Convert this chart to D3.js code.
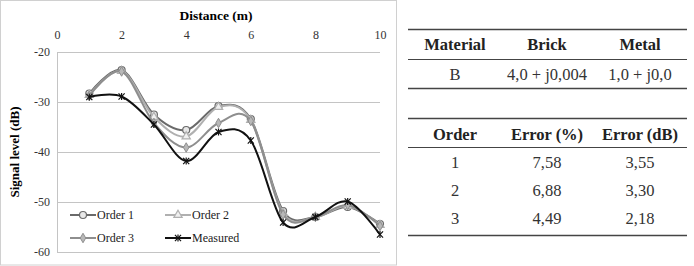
<!DOCTYPE html>
<html>
<head>
<meta charset="utf-8">
<script src="https://cdn.jsdelivr.net/npm/d3@7"></script>
<style>
  body { margin: 0; background: white; }
  svg text { font-family: "Liberation Serif", "Times New Roman", serif; }
</style>
</head>
<body>
<svg id="chart" width="694" height="266"></svg>
<script>
// data
const distance = [1, 2, 3, 4, 5, 6, 7, 8, 9, 10];
const order1 = [-28.3, -23.6, -32.5, -35.6, -30.8, -33.4, -51.8, -53.0, -51.0, -54.4];
const order2 = [-28.6, -23.8, -33.0, -36.9, -31.0, -33.6, -52.2, -53.0, -50.8, -54.6];
const order3 = [-28.8, -23.9, -34.2, -39.1, -34.2, -33.8, -52.5, -53.0, -50.6, -54.8];
const measured = [-29.0, -28.9, -34.5, -41.8, -36.0, -37.7, -54.1, -53.0, -49.9, -56.5];
const xTicks = [0, 2, 4, 6, 8, 10];
const yTicks = [-20, -30, -40, -50, -60];

const tableMaterialHead = ["Material", "Brick", "Metal"];
const tableMaterialRows = [["B", "4,0 + j0,004", "1,0 + j0,0"]];
const tableErrorHead = ["Order", "Error (%)", "Error (dB)"];
const tableErrorRows = [["1", "7,58", "3,55"], ["2", "6,88", "3,30"], ["3", "4,49", "2,18"]];

const svg = d3.select("#chart");

// outer frame of the chart
svg.append("rect")
    .attr("x", 0.5).attr("y", 0.5)
    .attr("width", 396).attr("height", 264.5)
    .attr("fill", "white")
    .attr("stroke", "#d0d0d0");

const xScale = d3.scaleLinear().domain([0, 10]).range([57, 380]);
const yScale = d3.scaleLinear().domain([-60, -20]).range([252, 52]);

// gridlines
svg.append("g")
    .selectAll("line")
    .data(yTicks)
    .enter().append("line")
    .attr("x1", xScale(0)).attr("x2", xScale(10))
    .attr("y1", d => yScale(d) + 0.5).attr("y2", d => yScale(d) + 0.5)
    .attr("stroke", "#c4c4c4");

svg.append("line")
    .attr("x1", xScale(0) + 0.5).attr("x2", xScale(0) + 0.5)
    .attr("y1", yScale(-20)).attr("y2", yScale(-60))
    .attr("stroke", "#c4c4c4");

// x axis on top
const xAxis = svg.append("g")
    .attr("transform", "translate(0," + yScale(-20) + ")")
    .call(d3.axisTop(xScale).tickValues(xTicks).tickSize(0).tickPadding(13).tickFormat(d => String(d)));
xAxis.select(".domain").remove();
xAxis.selectAll("text")
    .style("font-size", "12px")
    .attr("fill", "#333");

// y axis
const yAxis = svg.append("g")
    .attr("transform", "translate(" + xScale(0) + ",0)")
    .call(d3.axisLeft(yScale).tickValues(yTicks).tickSize(0).tickPadding(7).tickFormat(d => String(d)));
yAxis.select(".domain").remove();
yAxis.selectAll("text")
    .style("font-size", "12px")
    .attr("fill", "#333");

svg.append("text")
    .attr("x", 216).attr("y", 20)
    .attr("text-anchor", "middle")
    .style("font-size", "13.5px")
    .style("font-weight", "bold")
    .text("Distance (m)");

svg.append("text")
    .attr("transform", "translate(19,152) rotate(-90)")
    .attr("text-anchor", "middle")
    .style("font-size", "13px")
    .style("font-weight", "bold")
    .text("Signal level (dB)");

// series
const series = [
    { name: "Order 1", values: order1, color: "#6a6a6a", width: 2, marker: "circle" },
    { name: "Order 2", values: order2, color: "#b0b0b0", width: 2, marker: "triangle" },
    { name: "Order 3", values: order3, color: "#8e8e8e", width: 2, marker: "diamond" },
    { name: "Measured", values: measured, color: "#111", width: 2, marker: "star" }
];

const line = d3.line()
    .x(d => xScale(d[0]))
    .y(d => yScale(d[1]))
    .curve(d3.curveCardinal.tension(0));

function drawMarker(g, type, color, cx, cy) {
    if (type === "circle") {
        g.append("circle").attr("cx", cx).attr("cy", cy).attr("r", 3.5)
            .attr("fill", "#e8e8e8").attr("stroke", color).attr("stroke-width", 1.2);
    } else if (type === "triangle") {
        g.append("path")
            .attr("d", d3.symbol(d3.symbolTriangle, 30)())
            .attr("transform", "translate(" + cx + "," + cy + ")")
            .attr("fill", "#f0f0f0").attr("stroke", color).attr("stroke-width", 1.2);
    } else if (type === "diamond") {
        g.append("path")
            .attr("d", d3.symbol(d3.symbolDiamond, 26)())
            .attr("transform", "translate(" + cx + "," + cy + ")")
            .attr("fill", "#b8b8b8").attr("stroke", color).attr("stroke-width", 1);
    } else {
        g.append("path")
            .attr("d", d3.symbol(d3.symbolX, 26)())
            .attr("transform", "translate(" + cx + "," + cy + ")")
            .attr("fill", "none").attr("stroke", color).attr("stroke-width", 1.2);
        g.append("line")
            .attr("x1", cx).attr("x2", cx).attr("y1", cy - 3.5).attr("y2", cy + 3.5)
            .attr("stroke", color).attr("stroke-width", 1.2);
    }
}

series.forEach(s => {
    const pts = distance.map((d, i) => [d, s.values[i]]);
    const g = svg.append("g");
    g.append("path")
        .attr("d", line(pts))
        .attr("fill", "none")
        .attr("stroke", s.color)
        .attr("stroke-width", s.width);
    pts.forEach(p => drawMarker(g, s.marker, s.color, xScale(p[0]), yScale(p[1])));
});

// legend
const legendPos = [[70, 215], [165, 215], [70, 238], [165, 238]];
series.forEach((s, i) => {
    const lx = legendPos[i][0], ly = legendPos[i][1];
    const g = svg.append("g");
    g.append("line")
        .attr("x1", lx).attr("x2", lx + 26)
        .attr("y1", ly).attr("y2", ly)
        .attr("stroke", s.color).attr("stroke-width", s.width);
    drawMarker(g, s.marker, s.color, lx + 13, ly);
    g.append("text")
        .attr("x", lx + 27).attr("y", ly + 4)
        .style("font-size", "12px")
        .attr("fill", "#222")
        .text(s.name);
});

// tables
const colX = [455, 547, 640];
function drawTable(top, head, rows, rowYs, headY, lineYs) {
    const g = svg.append("g");
    g.append("line").attr("x1", 408).attr("x2", 687).attr("y1", top).attr("y2", top)
        .attr("stroke", "#444").attr("stroke-width", 1.5);
    head.forEach((h, i) => {
        g.append("text").attr("x", colX[i]).attr("y", headY)
            .attr("text-anchor", "middle")
            .style("font-size", "16.5px").style("font-weight", "bold")
            .attr("fill", "#222")
            .text(h);
    });
    rows.forEach((r, ri) => {
        r.forEach((c, ci) => {
            g.append("text").attr("x", colX[ci]).attr("y", rowYs[ri])
                .attr("text-anchor", "middle")
                .style("font-size", "16.5px")
                .attr("fill", "#333")
                .text(c);
        });
    });
    lineYs.forEach((ly, i) => {
        g.append("line").attr("x1", 408).attr("x2", 687).attr("y1", ly).attr("y2", ly)
            .attr("stroke", "#444").attr("stroke-width", i === lineYs.length - 1 ? 1.5 : 1);
    });
}

drawTable(29.5, tableMaterialHead, tableMaterialRows, [80], 50, [59.5, 88.5]);
drawTable(118.5, tableErrorHead, tableErrorRows, [168, 196, 224], 140, [147.5, 235.5]);
</script>
</body>
</html>
